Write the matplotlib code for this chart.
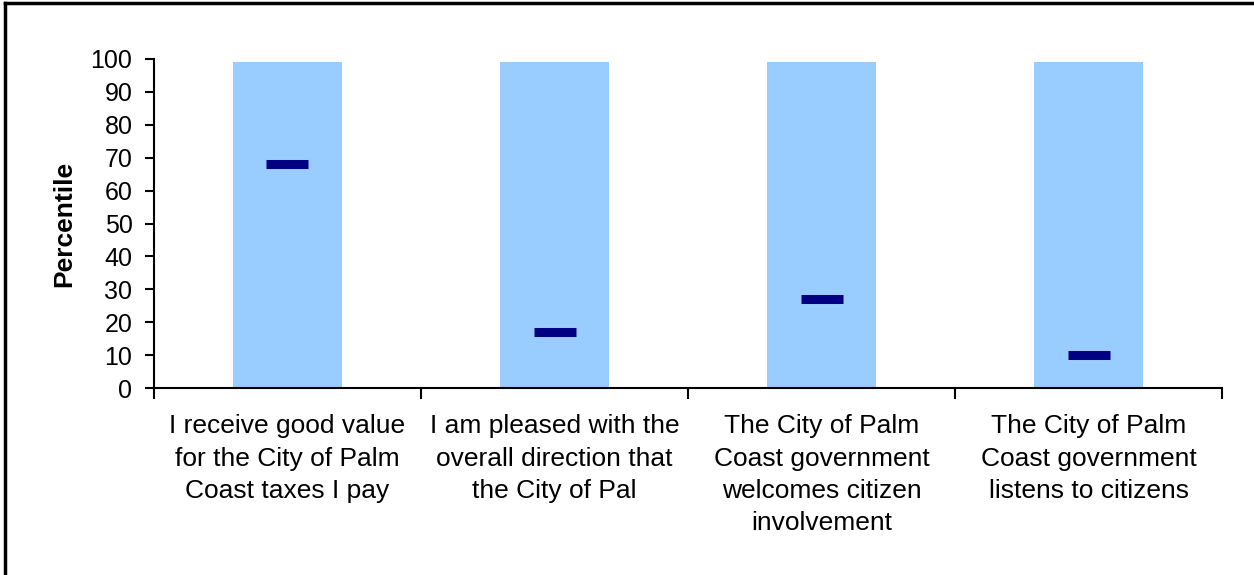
import numpy as np
import matplotlib.pyplot as plt
from matplotlib.lines import Line2D

# Data
categories = [
    'I receive good value\nfor the City of Palm\nCoast taxes I pay',
    'I am pleased with the\noverall direction that\nthe City of Pal',
    'The City of Palm\nCoast government\nwelcomes citizen\ninvolvement',
    'The City of Palm\nCoast government\nlistens to citizens',
]
range_top = [99, 99, 99, 99]
percentile = [68, 17, 27, 10]

plt.rcParams['font.family'] = ['Liberation Sans', 'DejaVu Sans']

fig = plt.figure(figsize=(12.54, 5.75), dpi=100)
ax = fig.add_axes([0.1228, 0.3252, 0.8517, 0.5722])

x = np.arange(len(categories))
ax.bar(x, range_top, width=0.405, color='#99CCFF', zorder=1)
ax.plot(x, percentile, linestyle='none', marker='_', markersize=30,
        markeredgewidth=6.5, color='#000080', zorder=3)

ax.set_xlim(-0.5, len(categories) - 0.5)
ax.set_ylim(0, 100)
ax.set_yticks(np.arange(0, 101, 10))
ax.tick_params(axis='y', labelsize=18, length=6.5, width=1.5,
               direction='out', pad=9)

# category ticks sit on the boundaries, labels in the middle
ax.set_xticks(np.arange(-0.5, len(categories), 1.0))
ax.set_xticklabels([])
ax.set_xticks(x, minor=True)
ax.set_xticklabels(categories, minor=True, fontsize=19, linespacing=1.43)
ax.tick_params(axis='x', which='major', length=8, width=1.5, direction='out')
ax.tick_params(axis='x', which='minor', length=0, pad=19)

for side in ['top', 'right']:
    ax.spines[side].set_visible(False)
for side in ['left', 'bottom']:
    ax.spines[side].set_linewidth(1.5)

ax.set_ylabel('Percentile', fontsize=19, fontweight='bold', labelpad=10)

# outer frame (only left and top edges are inside the picture)
fig.add_artist(Line2D([0.004, 0.004], [0, 0.995], color='black', lw=2.5,
                      transform=fig.transFigure))
fig.add_artist(Line2D([0.004, 1.0], [0.995, 0.995], color='black', lw=2.5,
                      transform=fig.transFigure))

fig.savefig('out.png', dpi=100)
